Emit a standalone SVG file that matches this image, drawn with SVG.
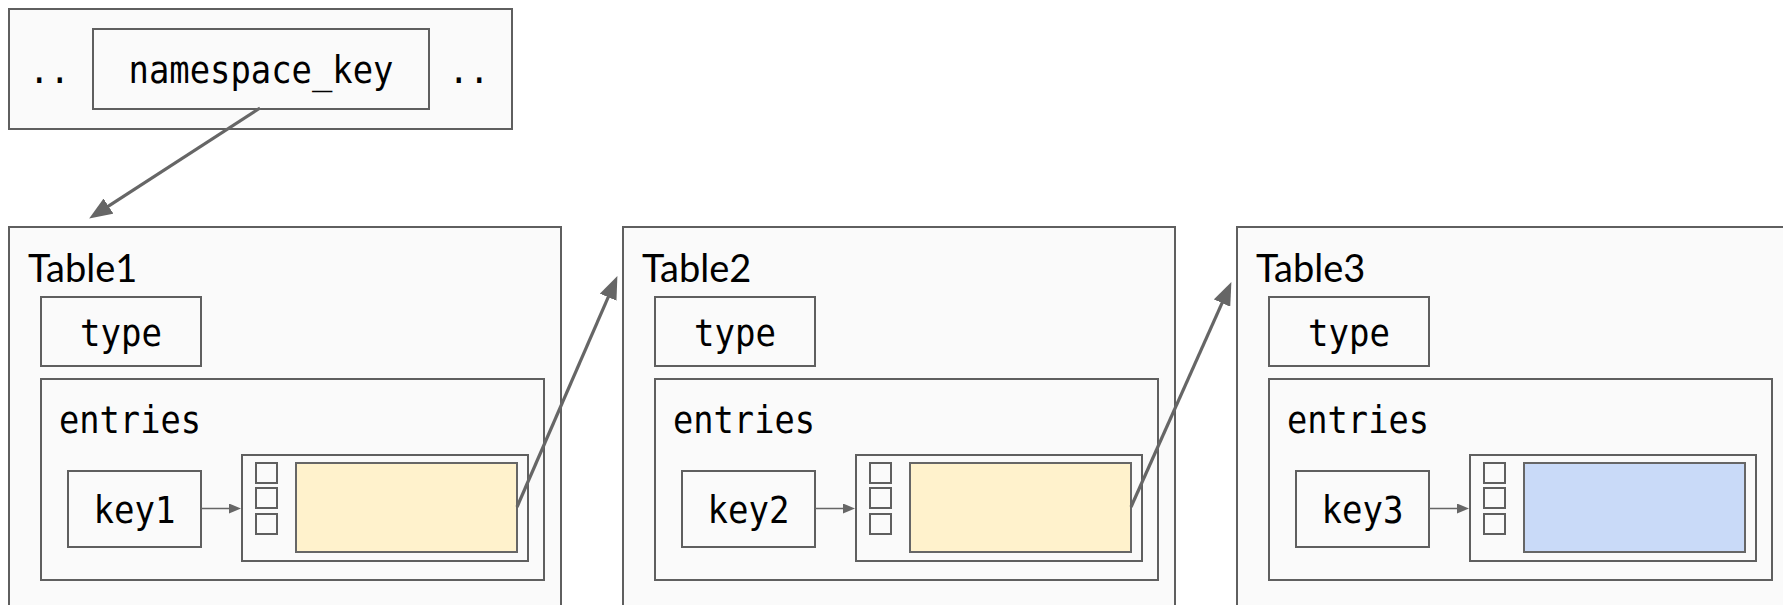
<svg xmlns="http://www.w3.org/2000/svg" width="1783" height="605" viewBox="0 0 1783 605">
  <style>
    .box { fill: #fafafa; stroke: #5f5f5f; stroke-width: 2; }
    .cell { fill: #fafafa; stroke: #5f5f5f; stroke-width: 2; }
    .val-a { fill: #fff2cc; stroke: #666666; stroke-width: 2; }
    .val-b { fill: #c9daf8; stroke: #666666; stroke-width: 2; }
    .mono { font-family: "DejaVu Sans Mono", "Liberation Mono", monospace; font-size: 37px; fill: #000000; }
    .title { font-family: Lato, "Liberation Sans", sans-serif; font-size: 38px; fill: #000000; }
    .mid { text-anchor: middle; }
    .link { fill: none; stroke: #666666; stroke-width: 3.2; }
    .ptr { fill: none; stroke: #666666; stroke-width: 1.5; }
  </style>
  <defs>
    <marker id="head" markerUnits="userSpaceOnUse" markerWidth="23" markerHeight="18" refX="12" refY="9" orient="auto">
      <path d="M0,0 L23,9 L0,18 z" fill="#666666"/>
    </marker>
    <marker id="head-sm" markerUnits="userSpaceOnUse" markerWidth="12" markerHeight="10" refX="8" refY="5" orient="auto">
      <path d="M0,0 L12,5 L0,10 z" fill="#666666"/>
    </marker>
  </defs>

  <rect width="1783" height="605" fill="#ffffff"/>

  <!-- namespace row -->
  <g id="namespace">
    <rect class="box" x="9" y="9" width="503" height="120"/>
    <text class="mono mid" x="49.5" y="83" textLength="41" lengthAdjust="spacingAndGlyphs">..</text>
    <rect class="box" x="93" y="29" width="336" height="80"/>
    <text class="mono mid" x="261" y="83" textLength="265" lengthAdjust="spacingAndGlyphs">namespace_key</text>
    <text class="mono mid" x="469" y="83" textLength="41" lengthAdjust="spacingAndGlyphs">..</text>
  </g>

  <!-- Table1 -->
  <g id="table1" transform="translate(9,0)">
    <rect class="box" x="0" y="227" width="552" height="400"/>
    <text class="title" x="19" y="282">Table1</text>
    <rect class="box" x="32" y="297" width="160" height="69"/>
    <text class="mono mid" x="112" y="346" textLength="82" lengthAdjust="spacingAndGlyphs">type</text>
    <rect class="box" x="32" y="379" width="503" height="201"/>
    <text class="mono" x="50" y="433" textLength="142" lengthAdjust="spacingAndGlyphs">entries</text>
    <rect class="box" x="59" y="471" width="133" height="76"/>
    <text class="mono mid" x="125.5" y="523" textLength="82" lengthAdjust="spacingAndGlyphs">key1</text>
    <rect class="box" x="233" y="455" width="286" height="106"/>
    <rect class="cell" x="247" y="463" width="21" height="20"/>
    <rect class="cell" x="247" y="488" width="21" height="20"/>
    <rect class="cell" x="247" y="514" width="21" height="20"/>
    <rect class="val-a" x="287" y="463" width="221" height="89"/>
    <line class="ptr" x1="192" y1="508.5" x2="228" y2="508.5" marker-end="url(#head-sm)"/>
  </g>

  <!-- Table2 -->
  <g id="table2" transform="translate(623,0)">
    <rect class="box" x="0" y="227" width="552" height="400"/>
    <text class="title" x="19" y="282">Table2</text>
    <rect class="box" x="32" y="297" width="160" height="69"/>
    <text class="mono mid" x="112" y="346" textLength="82" lengthAdjust="spacingAndGlyphs">type</text>
    <rect class="box" x="32" y="379" width="503" height="201"/>
    <text class="mono" x="50" y="433" textLength="142" lengthAdjust="spacingAndGlyphs">entries</text>
    <rect class="box" x="59" y="471" width="133" height="76"/>
    <text class="mono mid" x="125.5" y="523" textLength="82" lengthAdjust="spacingAndGlyphs">key2</text>
    <rect class="box" x="233" y="455" width="286" height="106"/>
    <rect class="cell" x="247" y="463" width="21" height="20"/>
    <rect class="cell" x="247" y="488" width="21" height="20"/>
    <rect class="cell" x="247" y="514" width="21" height="20"/>
    <rect class="val-a" x="287" y="463" width="221" height="89"/>
    <line class="ptr" x1="192" y1="508.5" x2="228" y2="508.5" marker-end="url(#head-sm)"/>
  </g>

  <!-- Table3 -->
  <g id="table3" transform="translate(1237,0)">
    <rect class="box" x="0" y="227" width="552" height="400"/>
    <text class="title" x="19" y="282">Table3</text>
    <rect class="box" x="32" y="297" width="160" height="69"/>
    <text class="mono mid" x="112" y="346" textLength="82" lengthAdjust="spacingAndGlyphs">type</text>
    <rect class="box" x="32" y="379" width="503" height="201"/>
    <text class="mono" x="50" y="433" textLength="142" lengthAdjust="spacingAndGlyphs">entries</text>
    <rect class="box" x="59" y="471" width="133" height="76"/>
    <text class="mono mid" x="125.5" y="523" textLength="82" lengthAdjust="spacingAndGlyphs">key3</text>
    <rect class="box" x="233" y="455" width="286" height="106"/>
    <rect class="cell" x="247" y="463" width="21" height="20"/>
    <rect class="cell" x="247" y="488" width="21" height="20"/>
    <rect class="cell" x="247" y="514" width="21" height="20"/>
    <rect class="val-b" x="287" y="463" width="221" height="89"/>
    <line class="ptr" x1="192" y1="508.5" x2="228" y2="508.5" marker-end="url(#head-sm)"/>
  </g>

  <!-- links between structures -->
  <g id="connectors">
    <line class="link" x1="260" y1="108" x2="98.4" y2="212.6" marker-end="url(#head)"/>
    <line class="link" x1="517" y1="507" x2="613" y2="286.2" marker-end="url(#head)"/>
    <line class="link" x1="1131" y1="507" x2="1226.9" y2="292.1" marker-end="url(#head)"/>
  </g>
</svg>
